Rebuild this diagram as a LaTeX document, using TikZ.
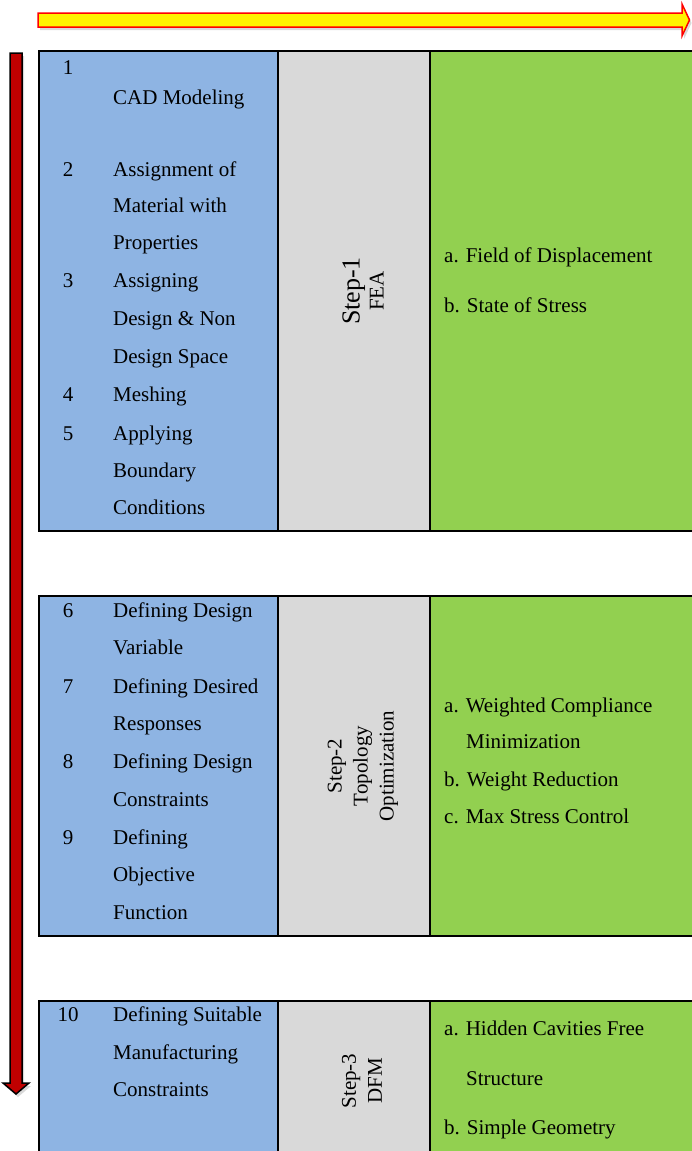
\documentclass[tikz,border=0pt]{standalone}
\usepackage{fontspec}
\setmainfont{Liberation Serif}
\usepackage{xcolor}
\usetikzlibrary{positioning,shadows}

\definecolor{cellblue}{RGB}{142,180,227}
\definecolor{cellgray}{RGB}{217,217,217}
\definecolor{cellgreen}{RGB}{146,208,80}
\definecolor{arrowred}{RGB}{192,0,0}

\begin{document}
\begin{tikzpicture}[
    x=1pt, y=-1pt,
    font=\fontsize{21}{26}\selectfont,
    cell/.style={rectangle, draw, line width=2pt, outer sep=0pt, inner sep=0pt, anchor=north west},
    num/.style={anchor=base, inner sep=0pt},
    item/.style={anchor=base west, inner sep=0pt},
    stepname/.style={rotate=90, align=center, inner sep=0pt},
    flow/.style={line width=1.5pt, drop shadow={opacity=0.3, shadow xshift=2pt, shadow yshift=-3pt}}
]
    \useasboundingbox (0,0) rectangle (691,1151);

    % Direction arrows
    \draw[flow, draw=red, fill=yellow] (38,13) -- (682,13) -- (682,4) -- (689.5,20) -- (682,36) -- (682,27) -- (38,27) -- cycle;
    \draw[flow, draw=black, fill=arrowred] (10,53) -- (22,53) -- (22,1083) -- (29,1083) -- (16,1094) -- (3,1083) -- (10,1083) -- cycle;

    % Step 1 row
    \node[cell, fill=cellblue, minimum width=239pt, minimum height=480pt] (blue1) at (39,51) {};
    \node[cell, fill=cellgray, minimum width=152pt, minimum height=480pt, right=0pt of blue1] (gray1) {};
    \node[cell, fill=cellgreen, minimum width=270pt, minimum height=480pt, right=0pt of gray1] (green1) {};

    % Step 2 row
    \node[cell, fill=cellblue, minimum width=239pt, minimum height=340pt] (blue2) at (39,596) {};
    \node[cell, fill=cellgray, minimum width=152pt, minimum height=340pt, right=0pt of blue2] (gray2) {};
    \node[cell, fill=cellgreen, minimum width=270pt, minimum height=340pt, right=0pt of gray2] (green2) {};

    % Step 3 row
    \node[cell, fill=cellblue, minimum width=239pt, minimum height=160pt] (blue3) at (39,1001) {};
    \node[cell, fill=cellgray, minimum width=152pt, minimum height=160pt, right=0pt of blue3] (gray3) {};
    \node[cell, fill=cellgreen, minimum width=270pt, minimum height=160pt, right=0pt of gray3] (green3) {};

    % Tasks of step 1
    \node[num] (n1) at (68,74) {1};
    \node[item] (cad) at (113,104) {CAD Modeling};
    \node[num] (n2) at (68,176) {2};
    \node[item] (matA) at (113,176) {Assignment of};
    \node[item] (matB) at (113,212) {Material with};
    \node[item] (matC) at (113,249) {Properties};
    \node[num] (n3) at (68,287) {3};
    \node[item] (spcA) at (113,287) {Assigning};
    \node[item] (spcB) at (113,325) {Design \& Non};
    \node[item] (spcC) at (113,363) {Design Space};
    \node[num] (n4) at (68,401) {4};
    \node[item] (mesh) at (113,401) {Meshing};
    \node[num] (n5) at (68,440) {5};
    \node[item] (bcA) at (113,440) {Applying};
    \node[item] (bcB) at (113,477) {Boundary};
    \node[item] (bcC) at (113,514) {Conditions};

    % Tasks of step 2
    \node[num] (n6) at (68,617) {6};
    \node[item] (varA) at (113,617) {Defining Design};
    \node[item] (varB) at (113,654) {Variable};
    \node[num] (n7) at (68,693) {7};
    \node[item] (resA) at (113,693) {Defining Desired};
    \node[item] (resB) at (113,730) {Responses};
    \node[num] (n8) at (68,768) {8};
    \node[item] (conA) at (113,768) {Defining Design};
    \node[item] (conB) at (113,806) {Constraints};
    \node[num] (n9) at (68,844) {9};
    \node[item] (objA) at (113,844) {Defining};
    \node[item] (objB) at (113,881) {Objective};
    \node[item] (objC) at (113,919) {Function};

    % Tasks of step 3
    \node[num] (n10) at (68,1021) {10};
    \node[item] (mfgA) at (113,1021) {Defining Suitable};
    \node[item] (mfgB) at (113,1059) {Manufacturing};
    \node[item] (mfgC) at (113,1096) {Constraints};

    % Step names
    \node[stepname] (step1) at ([xshift=9pt]gray1.center) {{\fontsize{26}{30}\selectfont Step-1}\\[-2pt]FEA};
    \node[stepname] (step2) at ([xshift=9pt]gray2.center) {Step-2\\Topology\\Optimization};
    \node[stepname] (step3) at ([xshift=8pt]gray3.center) {Step-3\\DFM};

    % Outputs
    \node[item] (outA) at (444,262) {a. Field of Displacement};
    \node[item] (outB) at (444,312) {b. State of Stress};
    \node[item] (optA) at (444,712) {a. Weighted Compliance};
    \node[item] (optB) at (466,748) {Minimization};
    \node[item] (optC) at (444,786) {b. Weight Reduction};
    \node[item] (optD) at (444,823) {c. Max Stress Control};
    \node[item] (dfmA) at (444,1035) {a. Hidden Cavities Free};
    \node[item] (dfmB) at (466,1085) {Structure};
    \node[item] (dfmC) at (444,1134) {b. Simple Geometry};

\end{tikzpicture}
\end{document}
